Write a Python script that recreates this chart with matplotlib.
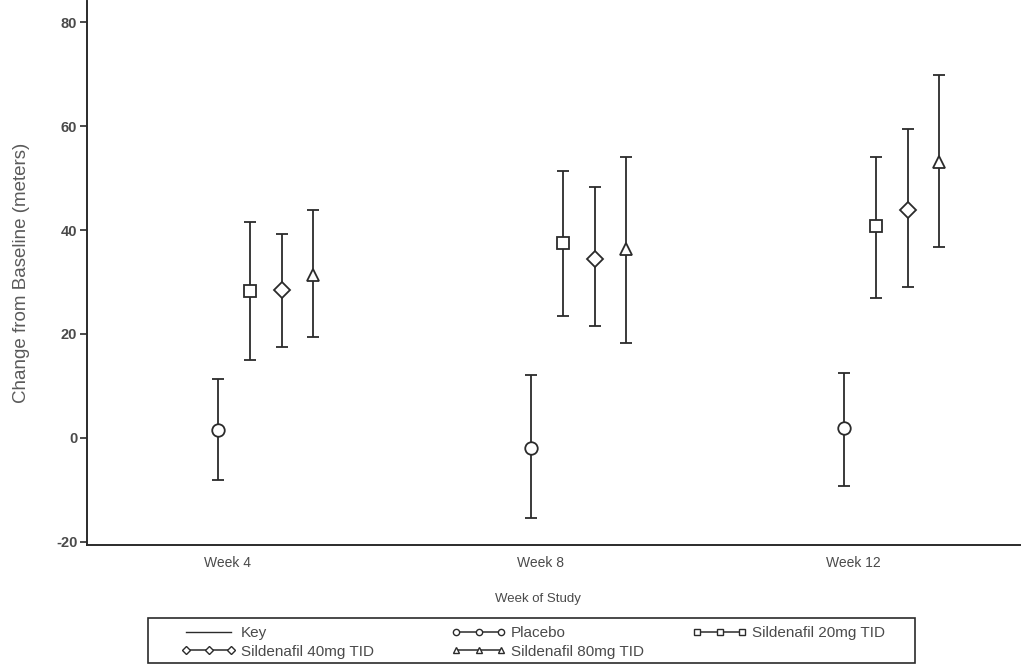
import matplotlib
matplotlib.use("Agg")
import matplotlib.pyplot as plt
import numpy as np
from matplotlib.lines import Line2D
from matplotlib.patches import Rectangle

plt.rcParams['font.family'] = ['Liberation Sans', 'DejaVu Sans']

weeks = ["Week 4", "Week 8", "Week 12"]
series = ["Placebo", "Sildenafil 20mg TID", "Sildenafil 40mg TID", "Sildenafil 80mg TID"]
markers = ["o", "s", "D", "^"]

placebo_mean = [1.5, -1.9, 1.9]
placebo_low = [-8.0, -15.4, -9.2]
placebo_high = [11.3, 12.1, 12.5]

s20_mean = [28.2, 37.6, 40.7]
s20_low = [15.0, 23.4, 27.0]
s20_high = [41.5, 51.4, 54.1]

s40_mean = [28.4, 34.5, 43.8]
s40_low = [17.5, 21.5, 29.0]
s40_high = [39.2, 48.2, 59.5]

s80_mean = [31.3, 36.3, 53.0]
s80_low = [19.5, 18.3, 36.8]
s80_high = [43.8, 54.1, 69.9]

means = [placebo_mean, s20_mean, s40_mean, s80_mean]
lows = [placebo_low, s20_low, s40_low, s80_low]
highs = [placebo_high, s20_high, s40_high, s80_high]

offsets = [0.0, 0.102, 0.203, 0.302]
col = "#2b2b2b"
tcol = "#4a4a4a"

W, H = 1026, 667
fig = plt.figure(figsize=(W/100, H/100), dpi=100)
ax = fig.add_axes([87/W, 1-545/H, (1020-87)/W, 545/H - 0.002])

x = np.arange(len(weeks))
msizes = [9, 9, 8, 9]
for m, lo, hi, mk, off, ms in zip(means, lows, highs, markers, offsets, msizes):
    m = np.array(m); lo = np.array(lo); hi = np.array(hi)
    ax.errorbar(x + off, m, yerr=[m - lo, hi - m], fmt=mk, mfc="white", mec=col,
                mew=1.3, ms=ms, ecolor=col, elinewidth=1.3, capsize=4, capthick=1.3,
                color=col, zorder=3)

ax.set_xlim(-0.419, 2.562)
ax.set_ylim(-20.6, 84)
ax.set_yticks([-20, 0, 20, 40, 60, 80])
ax.set_yticklabels(["-20", "0", "20", "40", "60", "80"], fontweight="bold")
ax.set_xticks(x + 0.03)
ax.set_xticklabels(weeks)
ax.tick_params(axis="x", length=0, pad=8, labelsize=10, labelcolor=tcol)
ax.tick_params(axis="y", length=5, width=1.2, labelsize=10.5, labelcolor=tcol, color=col, pad=2)
for s in ["top", "right"]:
    ax.spines[s].set_visible(False)
for s in ["left", "bottom"]:
    ax.spines[s].set_linewidth(1.4)
    ax.spines[s].set_color(col)

ax.set_ylabel("Change from Baseline (meters)", fontsize=13.5, color="#5a5a5a")
ax.yaxis.set_label_coords((30 - 87) / 933, 0.5)
ax.set_xlabel("Week of Study", fontsize=9.5, color=tcol)
ax.xaxis.set_label_coords((538 - 87) / 933, (545 - 593) / 545)

def h(mk):
    return Line2D([], [], color=col, marker=mk, mfc="white", mec=col, ms=4.5, lw=1.1)

key = Line2D([], [], color=col, lw=1.0)
columns = [
    ([key, h("D")], ["Key", "Sildenafil 40mg TID"], 181),
    ([h("o"), h("^")], ["Placebo", "Sildenafil 80mg TID"], 451),
    ([h("s")], ["Sildenafil 20mg TID"], 692),
]
for hs, ls, x0 in columns:
    lg = fig.legend(hs, ls, loc="upper left", bbox_to_anchor=(x0 / W, 1 - 626 / H),
                    numpoints=3, handlelength=3.6, fontsize=11, frameon=False,
                    borderpad=0, labelspacing=0.3, handletextpad=0.3, borderaxespad=0)
    for t in lg.get_texts():
        t.set_color(tcol)

fig.patches.append(Rectangle((148 / W, 1 - 663 / H), (915 - 148) / W, 45 / H,
                             transform=fig.transFigure, fill=False,
                             edgecolor=col, linewidth=1.2))

fig.savefig("out.png", dpi=100)
